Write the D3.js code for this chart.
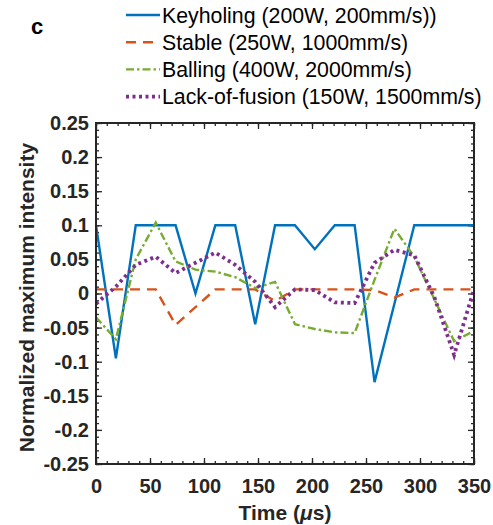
<!DOCTYPE html>
<html>
<head>
<meta charset="utf-8">
<script src="https://cdn.jsdelivr.net/npm/d3@7"></script>
<style>
  body { margin: 0; background: #fff; }
  svg { display: block; font-family: "Liberation Sans", Arial, sans-serif; }
  .axis path { display: none; }
  .axis line { stroke: #262626; stroke-width: 1.3; }
  .axis text { fill: #262626; font-size: 20px; font-weight: bold; font-family: "Liberation Sans", Arial, sans-serif; }
</style>
</head>
<body>
<div id="chart"></div>
<script>
// time samples (us)
const times = [0, 18.4, 36.8, 55.3, 73.7, 92.1, 110.5, 128.9, 147.4, 165.8,
  184.2, 202.6, 221.1, 239.5, 257.9, 276.3, 294.7, 313.2, 331.6, 350];

const keyholing = [0.1, -0.095, 0.1, 0.1, 0.1, 0.0, 0.1, 0.1, -0.045, 0.1,
  0.1, 0.065, 0.1, 0.1, -0.13, -0.015, 0.1, 0.1, 0.1, 0.1];
const stable = [0.006, 0.006, 0.006, 0.006, -0.046, -0.02, 0.006, 0.006, 0.006, -0.011,
  0.006, 0.006, 0.006, 0.006, 0.005, -0.006, 0.006, 0.006, 0.006, 0.006];
const balling = [-0.035, -0.067, 0.05, 0.104, 0.047, 0.035, 0.032, 0.024, 0.008, 0.017,
  -0.045, -0.052, -0.057, -0.058, 0.02, 0.095, 0.054, -0.008, -0.07, -0.055];
const lackOfFusion = [-0.015, 0.01, 0.042, 0.054, 0.03, 0.045, 0.06, 0.042, 0.017, -0.02,
  0.006, 0.005, -0.013, -0.014, 0.045, 0.064, 0.056, -0.005, -0.09, 0.006];

const seriesNames = ["Keyholing (200W, 200mm/s))", "Stable (250W, 1000mm/s)",
  "Balling (400W, 2000mm/s)", "Lack-of-fusion (150W, 1500mm/s)"];

const xTicks = [0, 50, 100, 150, 200, 250, 300, 350];
const yTicks = [-0.25, -0.2, -0.15, -0.1, -0.05, 0, 0.05, 0.1, 0.15, 0.2, 0.25];

const W = 493, H = 525;
const plot = { left: 96, right: 474, top: 123, bottom: 464 };

const svg = d3.select("#chart").append("svg").attr("width", W).attr("height", H);

const x = d3.scaleLinear().domain([0, 350]).range([plot.left, plot.right]);
const y = d3.scaleLinear().domain([-0.25, 0.25]).range([plot.bottom, plot.top]);

// line styles, MATLAB-ish
const styles = [
  { color: "#0072BD", width: 2.4, dash: null },
  { color: "#D95319", width: 2.4, dash: "10,7" },
  { color: "#77AC30", width: 2.4, dash: "8,3,2.5,3" },
  { color: "#7E2F8E", width: 3.8, dash: "3,3.5" }
];
const allSeries = [keyholing, stable, balling, lackOfFusion];

const line = d3.line().x(d => x(d[0])).y(d => y(d[1]));

// minor ticks
const xMinor = d3.range(0, 351, 10);
const yMinor = d3.range(-25, 26, 1).map(v => v / 100);

svg.append("g").attr("class", "axis")
  .attr("transform", "translate(0," + plot.bottom + ")")
  .call(d3.axisBottom(x).tickValues(xMinor).tickSize(-3).tickFormat(""));
svg.append("g").attr("class", "axis")
  .attr("transform", "translate(0," + plot.top + ")")
  .call(d3.axisTop(x).tickValues(xMinor).tickSize(-3).tickFormat(""));
svg.append("g").attr("class", "axis")
  .attr("transform", "translate(" + plot.left + ",0)")
  .call(d3.axisLeft(y).tickValues(yMinor).tickSize(-3).tickFormat(""));
svg.append("g").attr("class", "axis")
  .attr("transform", "translate(" + plot.right + ",0)")
  .call(d3.axisRight(y).tickValues(yMinor).tickSize(-3).tickFormat(""));

// major ticks
svg.append("g").attr("class", "axis")
  .attr("transform", "translate(0," + plot.bottom + ")")
  .call(d3.axisBottom(x).tickValues(xTicks).tickSize(-6).tickPadding(15).tickFormat(d3.format("d")));
svg.append("g").attr("class", "axis")
  .attr("transform", "translate(0," + plot.top + ")")
  .call(d3.axisTop(x).tickValues(xTicks).tickSize(-6).tickFormat(""));
svg.append("g").attr("class", "axis")
  .attr("transform", "translate(" + plot.left + ",0)")
  .call(d3.axisLeft(y).tickValues(yTicks).tickSize(-6).tickPadding(7).tickFormat(d => String(+d.toFixed(2))));
svg.append("g").attr("class", "axis")
  .attr("transform", "translate(" + plot.right + ",0)")
  .call(d3.axisRight(y).tickValues(yTicks).tickSize(-6).tickFormat(""));

// data lines
allSeries.forEach((vals, i) => {
  const s = styles[i];
  svg.append("path")
    .datum(times.map((t, k) => [t, vals[k]]))
    .attr("d", line)
    .attr("fill", "none")
    .attr("stroke", s.color)
    .attr("stroke-width", s.width)
    .attr("stroke-linejoin", "miter")
    .attr("stroke-dasharray", s.dash);
});

// box
svg.append("rect")
  .attr("x", plot.left).attr("y", plot.top)
  .attr("width", plot.right - plot.left).attr("height", plot.bottom - plot.top)
  .attr("fill", "none").attr("stroke", "#262626").attr("stroke-width", 2);

// axis labels
const xl = svg.append("text")
  .attr("x", (plot.left + plot.right) / 2).attr("y", 520)
  .attr("text-anchor", "middle")
  .attr("font-size", 21).attr("font-weight", "bold").attr("fill", "#262626");
xl.append("tspan").text("Time (");
xl.append("tspan").attr("font-style", "italic").text("\u03bc");
xl.append("tspan").text("s)");

svg.append("text")
  .attr("transform", "translate(34," + ((plot.top + plot.bottom) / 2 + 4) + ") rotate(-90)")
  .attr("text-anchor", "middle")
  .attr("font-size", 21).attr("font-weight", "bold").attr("fill", "#262626")
  .text("Normalized maximum intensity");

// panel letter
svg.append("text")
  .attr("x", 31).attr("y", 34)
  .attr("font-size", 22).attr("font-weight", "bold").attr("fill", "#000")
  .text("c");

// legend
const legend = svg.append("g");
seriesNames.forEach((name, i) => {
  const ly = 15 + i * 27.2;
  const s = styles[i];
  legend.append("line")
    .attr("x1", 126).attr("x2", 160).attr("y1", ly).attr("y2", ly)
    .attr("stroke", s.color).attr("stroke-width", s.width)
    .attr("stroke-dasharray", s.dash);
  legend.append("text")
    .attr("x", 162).attr("y", ly).attr("dy", "0.36em")
    .attr("font-size", 21.3).attr("fill", "#000")
    .text(name);
});
</script>
</body>
</html>
